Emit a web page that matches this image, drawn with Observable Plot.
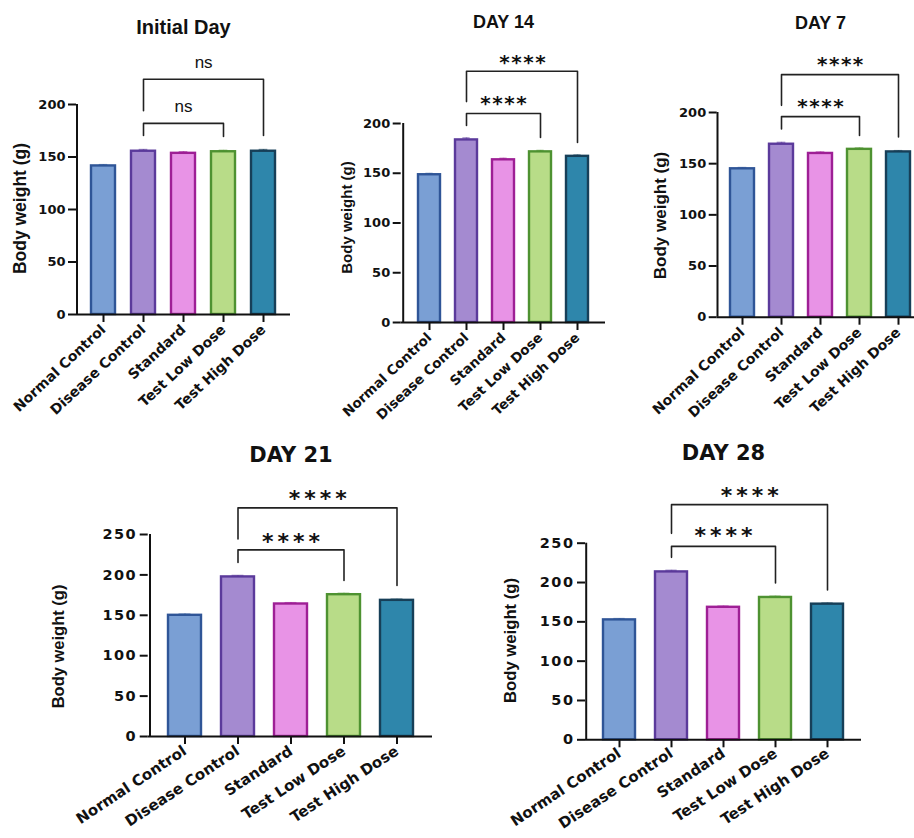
<!DOCTYPE html>
<html><head><meta charset="utf-8">
<script src="https://cdn.jsdelivr.net/npm/d3@7"></script>
<script src="https://cdn.jsdelivr.net/npm/@observablehq/plot@0.6"></script>
<style>
html,body{margin:0;padding:0;background:#fff;}
#root{position:relative;width:914px;height:838px;overflow:hidden;background:#fff;}
#root svg{position:absolute;overflow:visible;}
</style></head><body><div id="root"></div>
<script>
// ---------- data ----------
const groups = ["Normal Control", "Disease Control", "Standard", "Test Low Dose", "Test High Dose"];
const fillColors = ["#7a9fd4", "#a48ad0", "#e893e6", "#b8dc88", "#2e86ab"];
const strokeColors = ["#2f5597", "#5b3a9b", "#9e1f95", "#4e9231", "#173f58"];
const titles = ["Initial Day", "DAY 14", "DAY 7", "DAY 21", "DAY 28"];
const yAxisLabel = "Body weight (g)";

const initialDay = [141.5, 155.5, 153.5, 155, 155.5];
const day14 = [148.5, 183.5, 163.5, 171.5, 167];
const day7 = [145, 169, 160, 164, 161.5];
const day21 = [150, 197.5, 164, 175.5, 168.5];
const day28 = [152.5, 213.5, 168.5, 181, 172.5];

const semInitial = [1.2, 1.6, 1.5, 1.3, 1.6];
const semDay14 = [1.3, 2.0, 1.5, 1.4, 1.3];
const semDay7 = [1.2, 1.8, 1.4, 1.3, 1.2];
const semDay21 = [1.5, 1.8, 1.6, 1.7, 1.5];
const semDay28 = [1.6, 2.0, 1.5, 1.6, 1.4];

const yTicksTop = [0, 50, 100, 150, 200];
const yTicksBottom = [0, 50, 100, 150, 200, 250];

// significance comparisons: Disease Control vs Test Low Dose / Test High Dose
const compareFrom = "Disease Control";
const compareTo = ["Test Low Dose", "Test High Dose"];
const sigInitial = ["ns", "ns"];
const sigDay14 = ["****", "****"];
const sigDay7 = ["****", "****"];
const sigDay21 = ["****", "****"];
const sigDay28 = ["****", "****"];
// bracket levels (data units): [left foot, bar, right foot, label]
const bracketsInitial = [[170.5, 182, 169.5, 197], [194, 224, 170.5, 239]];
const bracketsDay14 = [[198, 210, 186, 225], [222, 252.5, 181, 266.5]];
const bracketsDay7 = [[184, 196, 177.5, 211], [207, 237, 176, 251.5]];
const bracketsDay21 = [[215.5, 231, 193, 247.5], [244.5, 283, 187, 301]];
const bracketsDay28 = [[232, 246, 199.5, 266], [262.5, 299, 190.5, 317.5]];

// ---------- layout (pixels) ----------
const layouts = [
  {left: 0, top: 0, height: 420, axisX: 76, c0: 102.5, step: 40.25, bw: 24, yTop: 104, yBottom: 314, yMax: 200,
   titleY: 27, titleFont: "Liberation Sans, Arial, sans-serif", titleSize: 20, labelX: 20, labelY: 208, labelSize: 17.5,
   tickFont: 13, xTickFont: 14, rotate: -43, xPad: 5, starSize: 20, starSpacing: 1.5, nsSize: 17, yTickSpacing: 0},
  {left: 300, top: 0, height: 420, axisX: 400.7, c0: 427, step: 38, bw: 23, yTop: 123, yBottom: 322, yMax: 200,
   titleY: 22, titleFont: "Liberation Sans, Arial, sans-serif", titleSize: 18, labelX: 347, labelY: 217, labelSize: 15,
   tickFont: 13, xTickFont: 13.5, rotate: -43, xPad: 5, starSize: 20, starSpacing: 1.5, nsSize: 17, yTickSpacing: 0},
  {left: 610, top: 0, height: 420, axisX: 716.7, c0: 741.7, step: 39.3, bw: 24, yTop: 112, yBottom: 316.7, yMax: 200,
   titleY: 23, titleFont: "Liberation Sans, Arial, sans-serif", titleSize: 18, labelX: 660, labelY: 215, labelSize: 17,
   tickFont: 13, xTickFont: 14, rotate: -43, xPad: 5, starSize: 20, starSpacing: 1.5, nsSize: 17, yTickSpacing: 0},
  {left: 0, top: 430, height: 408, axisX: 147.7, c0: 182.7, step: 53.5, bw: 33, yTop: 534, yBottom: 736, yMax: 250,
   titleY: 455, titleFont: "DejaVu Sans, sans-serif", titleSize: 21, labelX: 58, labelY: 646, labelSize: 16.5,
   tickFont: 14.5, xTickFont: 15, rotate: -33.5, xPad: 5, starSize: 22, starSpacing: 4, nsSize: 17, yTickSpacing: 1.5},
  {left: 460, top: 430, height: 408, axisX: 585, c0: 618.3, step: 52.3, bw: 32.3, yTop: 542.7, yBottom: 739.3, yMax: 250,
   titleY: 453, titleFont: "DejaVu Sans, sans-serif", titleSize: 21, labelX: 510, labelY: 640, labelSize: 16.7,
   tickFont: 14.5, xTickFont: 15, rotate: -33.5, xPad: 4, starSize: 22, starSpacing: 4, nsSize: 17, yTickSpacing: 1.5}
];

const panels = [
  {values: initialDay, sem: semInitial, sig: sigInitial, brackets: bracketsInitial, ticks: yTicksTop},
  {values: day14, sem: semDay14, sig: sigDay14, brackets: bracketsDay14, ticks: yTicksTop},
  {values: day7, sem: semDay7, sig: sigDay7, brackets: bracketsDay7, ticks: yTicksTop},
  {values: day21, sem: semDay21, sig: sigDay21, brackets: bracketsDay21, ticks: yTicksBottom},
  {values: day28, sem: semDay28, sig: sigDay28, brackets: bracketsDay28, ticks: yTicksBottom}
];

const root = document.getElementById("root");
const ink = "#111";

panels.forEach((p, idx) => {
  const L = layouts[idx];
  const n = groups.length;
  const pi = 1 - L.bw / L.step;
  const po = (L.c0 - L.axisX - L.bw / 2) / L.step;
  const xEnd = L.axisX + L.step * (n - pi + 2 * po);
  const marginLeft = L.axisX - L.left;
  const marginRight = 4;
  const width = Math.round(xEnd - L.left + marginRight);
  const marginTop = L.yTop - L.top;
  const marginBottom = L.top + L.height - L.yBottom;

  const rows = groups.map((g, i) => ({group: g, value: p.values[i], sem: p.sem[i], fill: fillColors[i], stroke: strokeColors[i]}));

  const bracketPts = [];
  p.brackets.forEach((b, k) => {
    const to = compareTo[k];
    bracketPts.push({k, x: compareFrom, y: b[0]}, {k, x: compareFrom, y: b[1]}, {k, x: to, y: b[1]}, {k, x: to, y: b[2]});
  });

  const sigMarks = p.brackets.map((b, k) => {
    const i0 = groups.indexOf(compareFrom), i1 = groups.indexOf(compareTo[k]);
    const m = (i0 + i1) / 2;
    const isStar = p.sig[k] !== "ns";
    const size = isStar ? L.starSize : L.nsSize;
    return Plot.text([p.sig[k]], {
      x: () => groups[Math.floor(m)], y: () => b[3], text: d => d,
      dx: (m - Math.floor(m)) * L.step + (isStar ? L.starSpacing / 2 : 0),
      dy: isStar ? size * 0.25 : -1,
      textAnchor: "middle", lineAnchor: "middle",
      fontSize: size,
      fontFamily: isStar ? "DejaVu Sans, sans-serif" : "Liberation Sans, Arial, sans-serif",
      fontWeight: isStar ? "bold" : "normal",
      fill: ink
    });
  });

  const svg = Plot.plot({
    width, height: L.height,
    marginLeft, marginRight, marginTop, marginBottom,
    style: {background: "transparent", overflow: "visible"},
    x: {domain: groups, paddingInner: pi, paddingOuter: po, align: 0.5},
    y: {domain: [0, L.yMax]},
    marks: [
      Plot.barY(rows, {x: "group", y: "value", fill: "fill", stroke: "stroke", strokeWidth: 2.4}),
      Plot.ruleX(rows, {x: "group", y1: "value", y2: d => d.value + d.sem, stroke: "stroke", strokeOpacity: 0.55, strokeWidth: 1.5}),
      Plot.tickY(rows, {x: "group", y: d => d.value + d.sem, stroke: "stroke", strokeOpacity: 0.55, strokeWidth: 1.5,
        insetLeft: L.bw * 0.32, insetRight: L.bw * 0.32}),
      Plot.ruleY([0], {stroke: ink, strokeWidth: 2}),
      Plot.ruleX([groups[0]], {y1: 0, y2: L.yMax, dx: L.axisX - L.c0, stroke: ink, strokeWidth: 2}),
      Plot.axisY({ticks: p.ticks, tickSize: 8, tickPadding: 3, stroke: ink, strokeWidth: 2, fill: ink,
        fontSize: L.tickFont, fontWeight: "bold", fontFamily: "DejaVu Sans, sans-serif", label: null}),
      Plot.axisX({tickSize: 8, tickPadding: L.xPad, tickRotate: L.rotate, stroke: ink, strokeWidth: 2, fill: ink,
        fontSize: L.xTickFont, fontWeight: "bold", fontFamily: "DejaVu Sans, sans-serif", label: null}),
      Plot.line(bracketPts, {x: "x", y: "y", z: "k", stroke: "#222", strokeWidth: 1.6, curve: "linear"}),
      ...sigMarks,
      Plot.text([titles[idx]], {x: () => groups[2], frameAnchor: "top", dy: L.titleY - L.yTop, text: d => d,
        textAnchor: "middle", lineAnchor: "middle",
        fontSize: L.titleSize, fontWeight: "bold", fontFamily: L.titleFont, fill: ink}),
      Plot.text([yAxisLabel], {frameAnchor: "left", rotate: -90, text: d => d,
        textAnchor: "middle", lineAnchor: "middle",
        dx: L.labelX - L.axisX, dy: L.labelY - (L.yTop + L.yBottom) / 2,
        fontSize: L.labelSize, fontWeight: "bold", fontFamily: "Liberation Sans, Arial, sans-serif", fill: ink})
    ]
  });
  svg.style.left = L.left + "px";
  svg.style.top = L.top + "px";
  svg.style.maxWidth = "none";
  // letter spacing for the asterisk labels and (bottom row) y tick numbers
  svg.querySelectorAll("text").forEach(t => {
    if (t.textContent === "****") t.style.letterSpacing = L.starSpacing + "px";
  });
  if (L.yTickSpacing) {
    svg.querySelectorAll("text").forEach(t => {
      if (p.ticks.map(String).includes(t.textContent)) {
        t.style.letterSpacing = L.yTickSpacing + "px";
      }
    });
  }
  root.appendChild(svg);
});
</script>
</body></html>
